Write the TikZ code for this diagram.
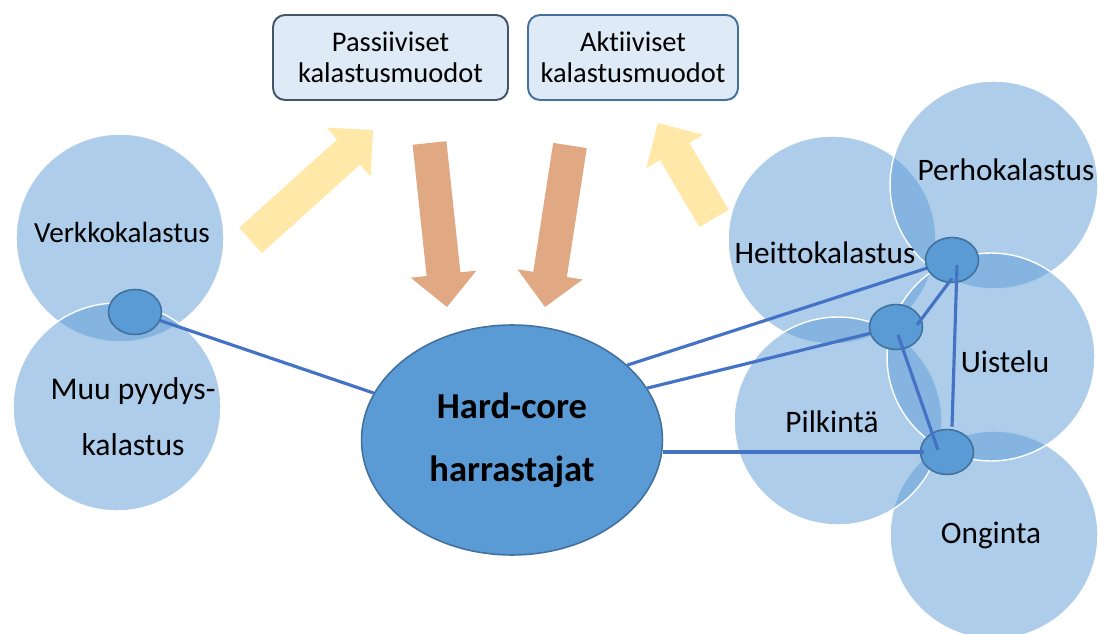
\documentclass[tikz,border=0pt]{standalone}
\usepackage{fontspec}
\setmainfont[Ligatures=NoCommon]{Carlito}
\usetikzlibrary{shapes.geometric,calc}
\definecolor{bub}{RGB}{91,155,213}
\definecolor{hubfill}{RGB}{91,155,213}
\definecolor{hubline}{RGB}{65,113,156}
\definecolor{linkc}{RGB}{68,114,196}
\definecolor{boxfill}{RGB}{222,235,247}
\definecolor{boxlineA}{RGB}{68,84,106}
\definecolor{boxlineB}{RGB}{65,113,156}
\definecolor{yel}{RGB}{255,232,168}
\definecolor{brn}{RGB}{224,168,131}
\newcommand{\blockarr}[3]{%
  \coordinate (hb) at ($(#2)!0.66cm!(#1)$);
  \fill[#3] ($(#1)!0.34cm!90:(#2)$) -- ($(hb)!0.34cm!-90:(#1)$) -- ($(hb)!0.66cm!-90:(#1)$) -- (#2)
     -- ($(hb)!0.66cm!90:(#1)$) -- ($(hb)!0.34cm!90:(#1)$) -- ($(#1)!0.34cm!-90:(#2)$) -- cycle;}
\tikzset{
  bubble/.style={circle, minimum size=4.16cm, inner sep=0pt, fill=bub, fill opacity=0.5, draw=white, line width=0.8pt},
  hub/.style={ellipse, fill=hubfill, draw=hubline, line width=0.9pt, inner sep=0pt, minimum width=1.06cm, minimum height=0.9cm},
  bigell/.style={ellipse, fill=hubfill, draw=hubline, line width=0.9pt, inner sep=0pt, minimum width=6.02cm, minimum height=4.6cm,
     align=center, font=\bfseries\fontsize{20.8}{36}\selectfont},
  link/.style={draw=linkc, line width=1.8pt},
  lbl/.style={font=\fontsize{17.8}{20}\selectfont, text=black, inner sep=0pt},
  box/.style={rounded corners=0.24cm, fill=boxfill, line width=1.1pt, align=center, inner sep=0pt,
     font=\fontsize{16.2}{17.6}\selectfont, minimum height=1.7cm}
}
\begin{document}
\begin{tikzpicture}[x=0.02cm,y=-0.02cm]
\useasboundingbox (0,0) rectangle (1098,634);
% block arrows
\blockarr{250.5,240.5}{373,130}{yel}
\blockarr{429.5,143}{447,307}{brn}
\blockarr{570,145.5}{545,307}{brn}
\blockarr{714,218.5}{658,123}{yel}
% boxes
\node[box, draw=boxlineA, minimum width=4.7cm] (pas) at (390.5,57.5) {Passiiviset\\kalastusmuodot};
\node[box, draw=boxlineB, minimum width=4.2cm] (akt) at (633,57.5) {Aktiiviset\\kalastusmuodot};
% circles
\node[bubble] (cverk) at (120,238) {};
\node[bubble] (cmuu) at (117,407) {};
\node[bubble] (cheit) at (832,240) {};
\node[bubble] (cperh) at (994,185) {};
\node[bubble] (congi) at (994,535) {};
\node[bubble] (cpilk) at (838,421) {};
\node[bubble] (cuist) at (991,357) {};
% labels
\node[lbl, font=\fontsize{16.6}{20}\selectfont] (tverk) at (122,232) {Verkkokalastus};
\node[lbl, align=center, font=\fontsize{18}{32}\selectfont] (tmuu) at (133,417) {Muu pyydys-\\kalastus};
\node[lbl] (theit) at (825,253) {Heittokalastus};
\node[lbl] (tperh) at (1006,170) {Perhokalastus};
\node[lbl] (tuist) at (1005,362) {Uistelu};
\node[lbl] (tpilk) at (832,422) {Pilkintä};
\node[lbl] (tongi) at (991,535) {Onginta};
% central ellipse
\node[bigell] (big) at (512,440) {Hard-core\\harrastajat};
% connectors to hubs
\draw[link] (135,312) coordinate (e0c) -- (big);
\draw[link] (big.33) -- (952,260) coordinate (e1c);
\draw[link] (big.21) -- (896,327) coordinate (e2c);
% hubs
\node[hub] (e0) at (e0c) {};
\node[hub] (e1) at (e1c) {};
\node[hub] (e2) at (e2c) {};
\node[hub] (e3) at (947,452) {};
\draw[link] (big.east |- e3.west) -- ($(e3.west)+(4,0)$);
\draw[link] ($(e1.center)+(5,5)$) -- ($(e3.north)+(5,-2)$);
\draw[link] ($(e2.center)+(21,-2)$) -- ($(e1.south)+(0,-5)$);
\draw[link] ($(e2.center)+(2,8)$) -- ($(e3.center)+(-9,-2)$);
\end{tikzpicture}
\end{document}
